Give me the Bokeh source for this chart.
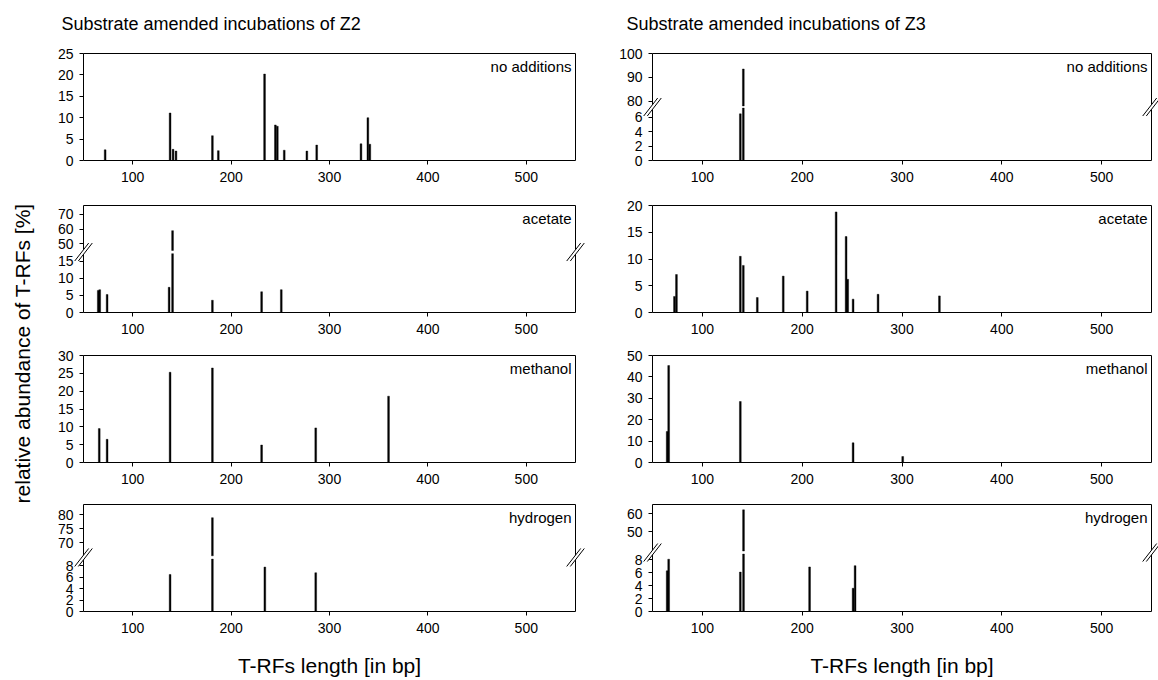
import numpy as np
from bokeh.plotting import figure
from bokeh.layouts import row, column
from bokeh.models import Range1d, FixedTicker, LinearAxis
from bokeh.core.properties import value
from bokeh.embed import file_html
from bokeh.resources import INLINE

FONT = "Liberation Sans"

# ---------------- data (T-RF length in bp, relative abundance in %) ----------------
X_TICKS = [100, 200, 300, 400, 500]
X_START, X_END = 50, 550

z2_none_bp = [72, 138, 141, 144, 181, 187, 234, 245, 247, 254, 277, 287, 332, 339, 341]
z2_none_val = [2.5, 11.1, 2.6, 2.2, 5.8, 2.3, 20.2, 8.3, 8.0, 2.4, 2.2, 3.6, 3.9, 10.0, 3.8]

z3_none_bp = [138, 141]
z3_none_val = [6.5, 93.5]

z2_acet_bp = [65, 66.5, 74, 137, 140.5, 181, 231, 251]
z2_acet_val = [6.5, 6.7, 5.3, 7.4, 59.0, 3.6, 6.1, 6.7]

z3_acet_bp = [72, 74, 138, 141, 155, 181, 205, 234, 244, 245.6, 251, 276, 337.5]
z3_acet_val = [3.0, 7.1, 10.5, 8.8, 2.8, 6.8, 4.0, 18.8, 14.2, 6.2, 2.5, 3.4, 3.1]

z2_meth_bp = [66, 74, 138, 181, 231, 286, 360]
z2_meth_val = [9.5, 6.5, 25.3, 26.5, 4.9, 9.7, 18.6]

z3_meth_bp = [64.7, 66.2, 138, 251, 300.7]
z3_meth_val = [14.5, 45.3, 28.5, 9.2, 2.8]

z2_hydr_bp = [138, 181, 234.3, 286]
z2_hydr_val = [6.5, 79.0, 7.8, 6.8]

z3_hydr_bp = [64.7, 66.2, 138, 141.2, 207.4, 251, 253]
z3_hydr_val = [6.3, 8.1, 6.1, 62.3, 6.9, 3.6, 7.1]

TITLE_Z2 = "Substrate amended incubations of Z2"
TITLE_Z3 = "Substrate amended incubations of Z3"
Y_TITLE = "relative abundance  of T-RFs [%]"
X_TITLE = "T-RFs length [in bp]"

# ---------------- layout constants (pixels) ----------------
BOX_H = 107
BAR_W = 1.8
LEFT = dict(box_w=492, L=43, R=20)      # margins around the plot box inside each figure
RIGHT = dict(box_w=499, L=57, R=7)
ROWS = [dict(T=53, B=35), dict(T=10, B=35), dict(T=8, B=35), dict(T=7, B=69)]


def edge_axis(loc, bounds):
    return LinearAxis(ticker=FixedTicker(ticks=[]), fixed_location=loc, bounds=bounds,
                      axis_line_color="black", axis_line_width=1,
                      major_tick_out=0, major_tick_in=0, minor_tick_out=0, minor_tick_in=0,
                      major_label_text_alpha=0)


def make_panel(bp, vals, label, col, rw, ymax=None, yticks=None, brk=None,
               title=None, title_dx=0, xlabel=None):
    bw, L, R = col["box_w"], col["L"], col["R"]
    T, B = rw["T"], rw["B"]
    ppb = bw / (X_END - X_START)

    def ext(a, b):
        # range whose [a, b] maps exactly onto the plot box
        return Range1d(a - B / BOX_H * (b - a), b + T / BOX_H * (b - a))

    y_top = ymax if brk is None else 1
    p = figure(width=L + bw + R, height=T + BOX_H + B,
               x_range=Range1d(X_START - L / ppb, X_END + R / ppb),
               y_range=ext(0, y_top),
               output_backend="svg", toolbar_location=None,
               min_border=0, min_border_left=0, min_border_right=0,
               min_border_top=0, min_border_bottom=0)
    p.title = None
    p.background_fill_color = "white"
    p.border_fill_color = "white"
    p.grid.visible = False
    p.outline_line_color = None

    bar_kw = dict(width=BAR_W, fill_color="black", line_color="black", line_width=0.4)

    if brk is None:
        p.vbar(x=bp, top=vals, **bar_kw)
        p.yaxis.ticker = FixedTicker(ticks=yticks)
    else:
        low_max, fL, hmin, hmax, fH, lticks, hticks = brk
        p.extra_y_ranges = {
            "low": ext(0, low_max / fL),
            "high": ext(hmin - fH * (hmax - hmin) / (1 - fH), hmax),
        }
        low_tops = [min(v, low_max) for v in vals]
        p.vbar(x=bp, top=low_tops, y_range_name="low", **bar_kw)
        hx = [x for x, v in zip(bp, vals) if v > hmin]
        hv = [v for v in vals if v > hmin]
        p.vbar(x=hx, bottom=hmin, top=hv, y_range_name="high", **bar_kw)
        ticks, over = [], {}
        for t in lticks:
            pos = round(t * fL / low_max, 6)
            ticks.append(pos)
            over[pos] = str(t)
        for t in hticks:
            pos = round(fH + (t - hmin) / (hmax - hmin) * (1 - fH), 6)
            ticks.append(pos)
            over[pos] = str(t)
        p.yaxis.ticker = FixedTicker(ticks=ticks)
        p.yaxis.major_label_overrides = over

    # axes pinned to the plot box
    p.yaxis[0].fixed_location = X_START
    p.yaxis[0].bounds = (0, y_top)
    p.xaxis[0].fixed_location = 0
    p.xaxis[0].bounds = (X_START, X_END)
    p.xaxis.ticker = FixedTicker(ticks=X_TICKS)
    for ax in p.axis:
        ax.axis_line_color = "black"
        ax.axis_line_width = 1
        ax.major_tick_line_color = "black"
        ax.major_tick_out = 4
        ax.major_tick_in = 0
        ax.minor_tick_out = 0
        ax.minor_tick_in = 0
        ax.major_label_text_font = FONT
        ax.major_label_text_font_size = "14px"
        ax.major_label_text_color = "black"
    p.yaxis.major_label_standoff = 6
    p.xaxis.major_label_standoff = 7

    # top and right edges of the plot box
    p.add_layout(edge_axis(y_top, (X_START, X_END)), "above")
    p.add_layout(edge_axis(X_END, (0, y_top)), "right")

    if brk is not None:
        # axis-break marks "//" on both sides of the box
        c = (fL + fH) / 2
        dx = 7.0 / ppb
        sep = 1.8 / ppb
        dy = 9.0 / BOX_H
        for xc in (X_START, X_END):
            r = p.patch(x=[xc - dx - sep, xc + dx - sep, xc + dx + sep, xc - dx + sep],
                        y=[c - dy, c + dy, c + dy, c - dy],
                        fill_color="white", fill_alpha=1, line_color=None)
            r.level = "overlay"
            r2 = p.segment(x0=[xc - dx - sep, xc - dx + sep], y0=[c - dy, c - dy],
                           x1=[xc + dx - sep, xc + dx + sep], y1=[c + dy, c + dy],
                           line_color="black", line_width=1)
            r2.level = "overlay"

    p.text(x=[X_END], y=[y_top], text=[label], text_align="right", text_baseline="top",
           x_offset=-4, y_offset=4, text_font=value(FONT), text_font_size="15px",
           text_color="black")
    if title:
        p.text(x=[X_START], y=[y_top], text=[title], text_align="left",
               text_baseline="middle", x_offset=title_dx, y_offset=-30,
               text_font=value(FONT), text_font_size="18px", text_color="black")
    if xlabel:
        p.text(x=[(X_START + X_END) / 2], y=[0], text=[xlabel], text_align="center",
               text_baseline="middle", y_offset=54, text_font=value(FONT),
               text_font_size="21px", text_color="black")
    return p


left_figs = [
    make_panel(z2_none_bp, z2_none_val, "no additions", LEFT, ROWS[0], ymax=25,
               yticks=[0, 5, 10, 15, 20, 25], title=TITLE_Z2, title_dx=-22),
    make_panel(z2_acet_bp, z2_acet_val, "acetate", LEFT, ROWS[1],
               brk=(17.3, 0.55, 45.6, 76, 0.58, [0, 5, 10, 15], [50, 60, 70])),
    make_panel(z2_meth_bp, z2_meth_val, "methanol", LEFT, ROWS[2], ymax=30,
               yticks=[0, 5, 10, 15, 20, 25, 30]),
    make_panel(z2_hydr_bp, z2_hydr_val, "hydrogen", LEFT, ROWS[3],
               brk=(9.2, 0.49, 65.4, 83.7, 0.52, [0, 2, 4, 6, 8], [70, 75, 80]),
               xlabel=X_TITLE),
]
right_figs = [
    make_panel(z3_none_bp, z3_none_val, "no additions", RIGHT, ROWS[0],
               brk=(7.3, 0.49, 78, 100, 0.51, [0, 2, 4, 6], [80, 90, 100]),
               title=TITLE_Z3, title_dx=-26),
    make_panel(z3_acet_bp, z3_acet_val, "acetate", RIGHT, ROWS[1], ymax=20,
               yticks=[0, 5, 10, 15, 20]),
    make_panel(z3_meth_bp, z3_meth_val, "methanol", RIGHT, ROWS[2], ymax=50,
               yticks=[0, 10, 20, 30, 40, 50]),
    make_panel(z3_hydr_bp, z3_hydr_val, "hydrogen", RIGHT, ROWS[3],
               brk=(8.9, 0.537, 39, 65.3, 0.565, [0, 2, 4, 6, 8], [50, 60]),
               xlabel=X_TITLE),
]

# narrow strip holding the shared y-axis title
yt = figure(width=40, height=680, x_range=Range1d(0, 1), y_range=Range1d(0, 680),
            x_axis_type=None, y_axis_type=None, output_backend="svg",
            toolbar_location=None, min_border=0)
yt.title = None
yt.grid.visible = False
yt.outline_line_color = None
yt.text(x=[0.55], y=[330], text=[Y_TITLE], angle=np.pi / 2, text_align="center",
        text_baseline="middle", text_font=value(FONT), text_font_size="21px",
        text_color="black")

layout = row(yt, column(*left_figs, spacing=0), column(*right_figs, spacing=0), spacing=0)

open("out.html", "w").write(file_html(layout, INLINE))
